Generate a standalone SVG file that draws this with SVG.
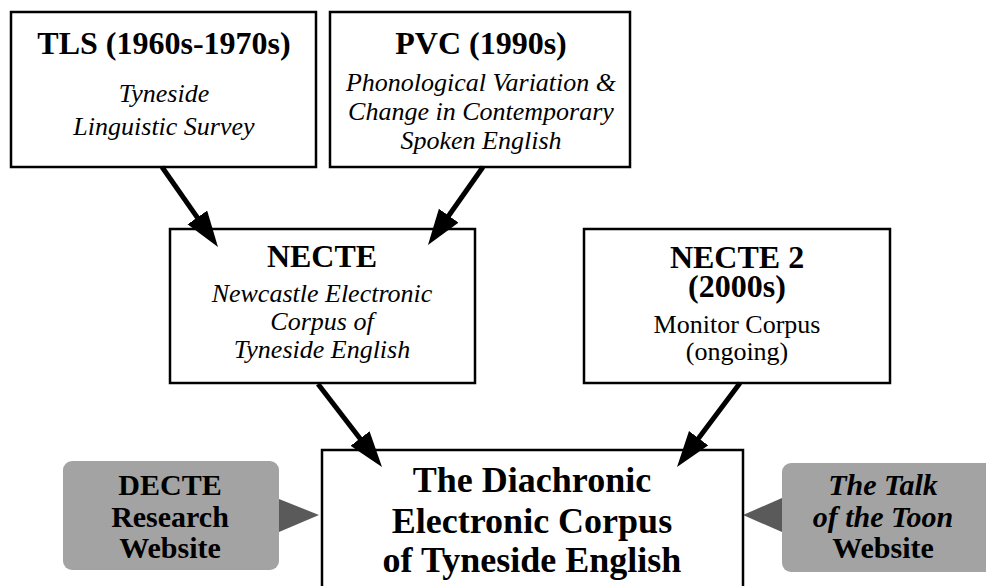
<svg xmlns="http://www.w3.org/2000/svg" width="986" height="586" viewBox="0 0 986 586">
<style>
.box{fill:#fff;stroke:#000;stroke-width:2.5}
.web{fill:#a3a3a3;stroke:none}
.ptr{fill:#5a5a5a}
text{font-family:"Liberation Serif","Times New Roman",serif;fill:#000;text-anchor:middle}
.t{font-weight:bold;font-size:32px}
.i{font-style:italic;font-size:26px}
.r{font-size:26px}
.m{font-weight:bold;font-size:36px}
.w{font-weight:bold;font-size:30px}
.wi{font-weight:bold;font-style:italic;font-size:30px}
.conn{stroke:#000;stroke-width:5;fill:none;marker-end:url(#ah)}
</style>
<defs>
<marker id="ah" markerUnits="userSpaceOnUse" markerWidth="40" markerHeight="26" refX="16" refY="12" orient="auto">
<path d="M0,0 L36,12 L0,24 z" fill="#000"/>
</marker>
</defs>
<rect width="986" height="586" fill="#fff"/>
<g id="tls">
<rect class="box" x="11" y="12" width="305" height="155"/>
<text class="t" x="164" y="54">TLS (1960s-1970s)</text>
<text class="i" x="164" y="102">Tyneside</text>
<text class="i" x="164" y="135">Linguistic Survey</text>
</g>
<g id="pvc">
<rect class="box" x="330" y="12" width="300" height="155"/>
<text class="t" x="481" y="54">PVC (1990s)</text>
<text class="i" x="481" y="91">Phonological Variation &amp;</text>
<text class="i" x="481" y="120">Change in Contemporary</text>
<text class="i" x="481" y="149">Spoken English</text>
</g>
<g id="necte">
<rect class="box" x="170" y="229" width="305" height="154"/>
<text class="t" x="322" y="267">NECTE</text>
<text class="i" x="322" y="302">Newcastle Electronic</text>
<text class="i" x="322" y="330">Corpus of</text>
<text class="i" x="322" y="358">Tyneside English</text>
</g>
<g id="necte2">
<rect class="box" x="584" y="229" width="306" height="154"/>
<text class="t" x="737" y="268">NECTE 2<tspan x="737" y="297">(2000s)</tspan></text>
<text class="r" x="737" y="333">Monitor Corpus</text>
<text class="r" x="737" y="360">(ongoing)</text>
</g>
<g id="decte">
<rect class="web" x="63" y="461" width="216" height="109" rx="9"/>
<polygon class="ptr" points="279,499 319,515 279,532"/>
<text class="w" x="170" y="495">DECTE</text>
<text class="w" x="170" y="527">Research</text>
<text class="w" x="170" y="558">Website</text>
</g>
<g id="toon">
<rect class="web" x="782" y="463" width="230" height="109" rx="9"/>
<polygon class="ptr" points="782,498 743,515 782,532"/>
<text class="wi" x="883" y="495">The Talk</text>
<text class="wi" x="883" y="527">of the Toon</text>
<text class="w" x="883" y="558">Website</text>
</g>
<g id="main">
<rect class="box" x="322" y="450" width="421" height="160"/>
<text class="m" x="532" y="492">The Diachronic</text>
<text class="m" x="532" y="533">Electronic Corpus</text>
<text class="m" x="532" y="572">of Tyneside English</text>
</g>
<g id="connectors">
<line class="conn" x1="162" y1="167" x2="206.5" y2="230.6"/>
<line class="conn" x1="483" y1="167" x2="439.5" y2="228.7"/>
<line class="conn" x1="318" y1="384" x2="369.8" y2="451.2"/>
<line class="conn" x1="740" y1="383" x2="689" y2="451"/>
</g>
</svg>
